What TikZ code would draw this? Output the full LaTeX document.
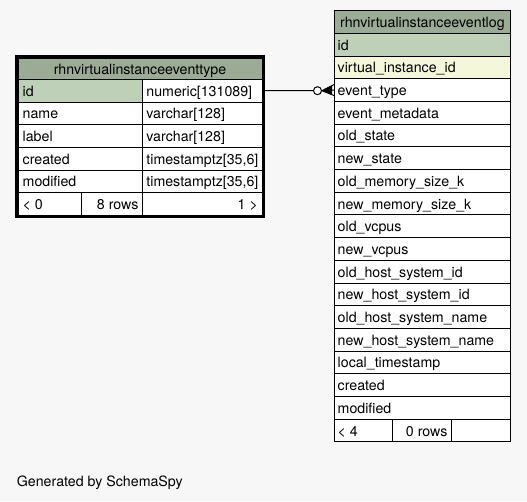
\documentclass[tikz,border=0pt]{standalone}
\usepackage{fontspec}
\setmainfont{TeX Gyre Heros}
\usetikzlibrary{calc}
\definecolor{bgc}{HTML}{F7F7F7}
\definecolor{headc}{HTML}{9BAB96}
\definecolor{pkc}{HTML}{BED1B8}
\definecolor{fkc}{HTML}{F4F7DA}
\begin{document}
\begin{tikzpicture}[x=1pt,y=-1pt,
  every node/.style={font=\fontsize{14.2}{16}\selectfont},
  cellbox/.style={draw=black, line width=1pt, inner sep=0pt, outer sep=0pt, anchor=north west, minimum height=22.7pt},
  txt/.style={inner sep=0pt, text height=11.5pt, text depth=0.5pt, text=black},
  lt/.style={txt, anchor=west},
  rt/.style={txt, anchor=east}]
\fill[bgc] (0,0) rectangle (527,501);
\useasboundingbox (0,0) rectangle (527,501);
% ---------- left table ----------
\draw[line width=3pt, fill=white] (16.5,56.5) rectangle (263.5,216.5);
\node[cellbox, fill=headc, minimum width=244pt, minimum height=21.3pt] (LT) at (18,58) {};
\node[txt] (LTt) at (LT.center) {rhnvirtualinstanceeventtype};
\foreach \i/\a/\b/\f in {1/id/{numeric[131089]}/pkc, 2/name/{varchar[128]}/white, 3/label/{varchar[128]}/white, 4/created/{timestamptz[35,6]}/white, 5/modified/{timestamptz[35,6]}/white}{
  \pgfmathsetmacro\yy{79.3+(\i-1)*22.7}
  \node[cellbox, fill=\f, minimum width=124.7pt] (L\i a) at (18,\yy) {};
  \node[cellbox, fill=white, minimum width=119.3pt] (L\i b) at (142.7,\yy) {};
  \node[lt] (L\i at) at ([xshift=4.5pt]L\i a.west) {\a};
  \node[lt] (L\i bt) at ([xshift=3.5pt]L\i b.west) {\b};
}
\node[cellbox, fill=white, minimum width=63pt] (LFa) at (18,192.8) {};
\node[cellbox, fill=white, minimum width=61.7pt] (LFb) at (81,192.8) {};
\node[cellbox, fill=white, minimum width=119.3pt] (LFc) at (142.7,192.8) {};
\node[lt] (LFat) at ([xshift=4.5pt]LFa.west) {< 0};
\node[rt] (LFbt) at ([xshift=-4pt]LFb.east) {8 rows};
\node[rt] (LFct) at ([xshift=-4pt]LFc.east) {1 >};
% ---------- right table ----------
\node[cellbox, fill=headc, minimum width=176.7pt, minimum height=23.3pt] (RT) at (334,10) {};
\node[txt] (RTt) at (RT.center) {rhnvirtualinstanceeventlog};
\foreach \i/\t/\f in {1/id/pkc, 2/virtual\_instance\_id/fkc, 3/event\_type/white, 4/event\_metadata/white, 5/old\_state/white, 6/new\_state/white, 7/old\_memory\_size\_k/white, 8/new\_memory\_size\_k/white, 9/old\_vcpus/white, 10/new\_vcpus/white, 11/old\_host\_system\_id/white, 12/new\_host\_system\_id/white, 13/old\_host\_system\_name/white, 14/new\_host\_system\_name/white, 15/local\_timestamp/white, 16/created/white, 17/modified/white}{
  \pgfmathsetmacro\yy{33.3+(\i-1)*22.7}
  \node[cellbox, fill=\f, minimum width=176.7pt] (R\i) at (334,\yy) {};
  \node[lt] (R\i t) at ([xshift=3.5pt]R\i.west) {\t};
}
\node[cellbox, fill=white, minimum width=58.7pt] (RFa) at (334,419.2) {};
\node[cellbox, fill=white, minimum width=59pt] (RFb) at (392.7,419.2) {};
\node[cellbox, fill=white, minimum width=59pt] (RFc) at (451.7,419.2) {};
\node[lt] (RFat) at ([xshift=3.5pt]RFa.west) {< 4};
\node[rt] (RFbt) at ([xshift=-4pt]RFb.east) {0 rows};
% ---------- connector ----------
\node[draw=black, circle, line width=1pt, fill=white, minimum size=8pt, inner sep=0pt] (dot) at (317.5,90.7) {};
\draw[line width=1pt] (L1b.east) -- (dot.west);
\fill[black] (dot.east) -- ($(R3.west)+(-2,-4.5)$) -- ($(R3.west)+(-2,4.5)$) -- cycle;
\draw[line width=1pt] ($(R3.west)+(0,-5.5)$) -- (dot.east) -- ($(R3.west)+(0,5.5)$);
\draw[line width=1pt] (dot.east) -- (R3.west);
% ---------- footer ----------
\node[txt, anchor=base west] (gen) at (16.7,486) {Generated by SchemaSpy};
\end{tikzpicture}
\end{document}
